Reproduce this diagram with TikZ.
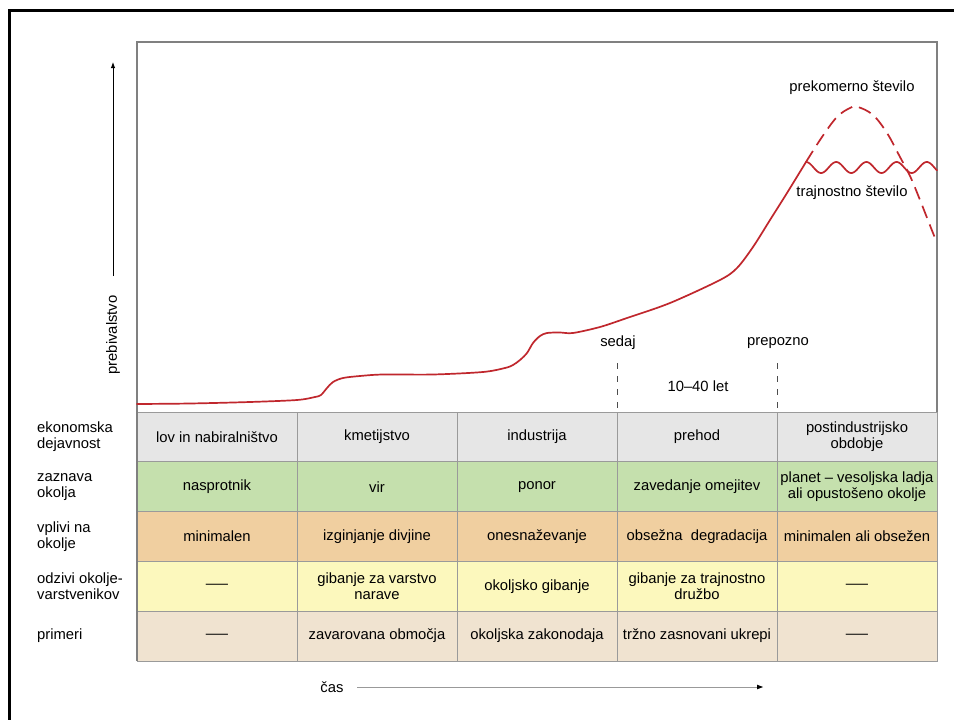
\documentclass[tikz,border=0pt]{standalone}
\usepackage{fontspec}
\usepackage{graphicx}
\setmainfont{Liberation Sans}
\usetikzlibrary{arrows.meta}
\definecolor{curvered}{HTML}{C0272D}
\definecolor{rowgray}{HTML}{E6E6E6}
\definecolor{rowgreen}{HTML}{C5E0AD}
\definecolor{roworange}{HTML}{F0CFA0}
\definecolor{rowyellow}{HTML}{FCF8BD}
\definecolor{rowbeige}{HTML}{F0E3D0}
\definecolor{gridgray}{HTML}{9A9A9A}
\definecolor{framegray}{HTML}{808080}
\newcommand{\nodash}{\scalebox{1.5}[1]{—}}
\begin{document}
\begin{tikzpicture}[x=1pt,y=-1pt,
  txt/.style={font=\fontsize{14.8}{16}\selectfont, inner sep=0pt, align=center},
  cell/.style={txt, draw=gridgray, line width=1pt, minimum width=160pt, minimum height=49.8pt},
  rowlabel/.style={txt, anchor=west, align=left},
  curve/.style={draw=curvered, line width=1.7pt, line cap=round, line join=round},
  vdash/.style={draw=black!70, line width=0.9pt, dash pattern=on 6pt off 7pt},
  axisarrow/.style={line width=0.9pt, -{Latex[length=6pt,width=4.5pt]}}
]
\useasboundingbox (0,0) rectangle (954,720);
\fill[white] (0,0) rectangle (954,720);
% outer black frame (left and top edges)
\draw[line width=3pt] (9,720) -- (9,10.5) -- (954,10.5);

% table cells
\node[cell, fill=rowgray] (c11) at (217,436.9) {lov in nabiralništvo};
\node[cell, fill=rowgray] (c12) at (377,436.9) {kmetijstvo};
\node[cell, fill=rowgray] (c13) at (537,436.9) {industrija};
\node[cell, fill=rowgray] (c14) at (697,436.9) {prehod};
\node[cell, fill=rowgray] (c15) at (857,436.9) {postindustrijsko\\obdobje};

\node[cell, fill=rowgreen] (c21) at (217,486.7) {nasprotnik};
\node[cell, fill=rowgreen] (c22) at (377,486.7) {vir};
\node[cell, fill=rowgreen] (c23) at (537,486.7) {ponor};
\node[cell, fill=rowgreen] (c24) at (697,486.7) {zavedanje omejitev};
\node[cell, fill=rowgreen] (c25) at (857,486.7) {planet – vesoljska ladja\\ali opustošeno okolje};

\node[cell, fill=roworange] (c31) at (217,536.5) {minimalen};
\node[cell, fill=roworange] (c32) at (377,536.5) {izginjanje divjine};
\node[cell, fill=roworange] (c33) at (537,536.5) {onesnaževanje};
\node[cell, fill=roworange] (c34) at (697,536.5) {obsežna\ \ degradacija};
\node[cell, fill=roworange] (c35) at (857,536.5) {minimalen ali obsežen};

\node[cell, fill=rowyellow] (c41) at (217,586.3) {\nodash};
\node[cell, fill=rowyellow] (c42) at (377,586.3) {gibanje za varstvo\\narave};
\node[cell, fill=rowyellow] (c43) at (537,586.3) {okoljsko gibanje};
\node[cell, fill=rowyellow] (c44) at (697,586.3) {gibanje za trajnostno\\družbo};
\node[cell, fill=rowyellow] (c45) at (857,586.3) {\nodash};

\node[cell, fill=rowbeige] (c51) at (217,636.1) {\nodash};
\node[cell, fill=rowbeige] (c52) at (377,636.1) {zavarovana območja};
\node[cell, fill=rowbeige] (c53) at (537,636.1) {okoljska zakonodaja};
\node[cell, fill=rowbeige] (c54) at (697,636.1) {tržno zasnovani ukrepi};
\node[cell, fill=rowbeige] (c55) at (857,636.1) {\nodash};

% row labels
\node[rowlabel] (r1) at (37,436.9) {ekonomska\\dejavnost};
\node[rowlabel] (r2) at (37,486.7) {zaznava\\okolja};
\node[rowlabel] (r3) at (37,536.5) {vplivi na\\okolje};
\node[rowlabel] (r4) at (37,586.3) {odzivi okolje-\\varstvenikov};
\node[rowlabel] (r5) at (37,636.1) {primeri};

% plot frame
\draw[framegray, line width=1.1pt] (137,661) -- (137,42) -- (937,42) -- (937,412);

% y axis
\coordinate (yBot) at (113,276);
\coordinate (yTop) at (113,62);
\draw[axisarrow] (yBot) -- (yTop);
\node[txt, rotate=90] (ylab) at (113,335) {prebivalstvo};

% x axis
\node[txt] (xlab) at (332,687) {čas};
\coordinate (xStart) at (357,687);
\coordinate (xEnd) at (763,687);
\draw[axisarrow, draw=black!40] (xStart) -- (xEnd);
\fill (763,687) -- (757,684.7) -- (757,689.3) -- cycle;

% marks
\coordinate (sedajTop) at (617,363);
\coordinate (sedajBot) at (617,412);
\coordinate (prepTop) at (777,363);
\coordinate (prepBot) at (777,412);
\draw[vdash] (sedajTop) -- (sedajBot);
\draw[vdash] (prepTop) -- (prepBot);
\node[txt] (sedaj) at (618,343) {sedaj};
\node[txt] (prepozno) at (778,343) {prepozno};
\node[txt] (let) at (698,386) {10–40 let};

% population curve
\draw[curve] plot[smooth, tension=0.5] coordinates {
 (137,404) (190,403.5) (250,402) (297,400) (315,397) (321,395)
 (327,388) (333,382) (343,378) (360,376) (383,374.5) (433,374.5)
 (483,372) (505,368) (513,365) (520,360) (527,353) (533,343)
 (540,336) (547,333) (560,332.5) (573,333) (600,327) (627,318)
 (670,303) (720,280) (737,268) (753,247) (770,220) (787,193) (806,162)};
% sustainable (wavy)
\draw[curve] plot[domain=806:937, samples=140, smooth] (\x, {167.5-5.5*cos(11.9205*(\x-806))});
% overshoot (dashed)
\draw[curve, line cap=butt, dash pattern=on 13pt off 7pt] plot[smooth, tension=0.6] coordinates {
 (806,162) (822,137) (837,117) (850,108) (858,107) (873,115) (887,133)
 (900,157) (910,176) (920,200) (933,233) (937,242)};

\node[txt] (over) at (852,88) {prekomerno število};
\node[txt] (sust) at (852,193) {trajnostno število};
\end{tikzpicture}
\end{document}
